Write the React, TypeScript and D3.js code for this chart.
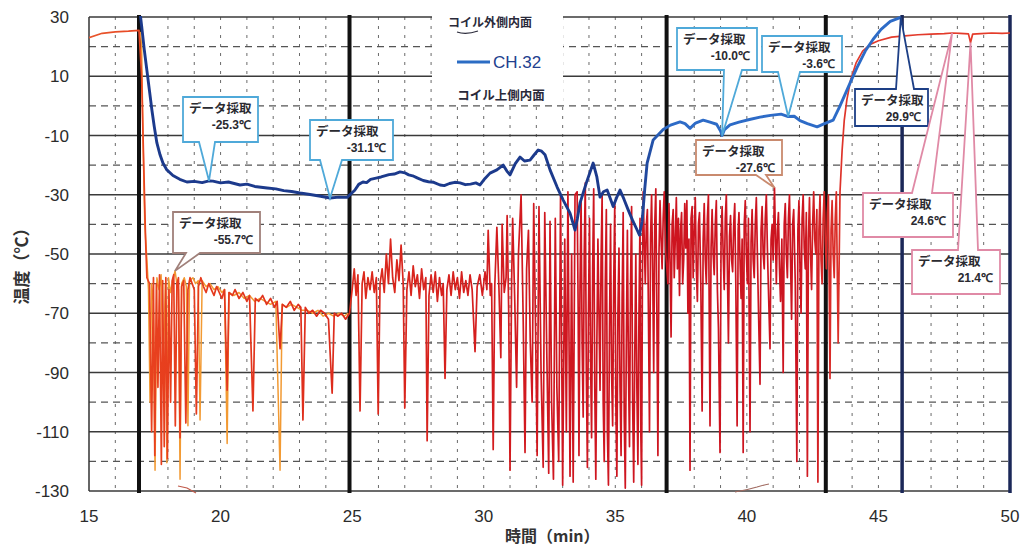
import React from "react";
import * as d3 from "d3";

const WIDTH = 1022;
const HEIGHT = 546;

// Axis domains and tick labels
const timeDomain: [number, number] = [15, 50];
const tempDomain: [number, number] = [-130, 30];
const xTickValues = [15, 20, 25, 30, 35, 40, 45, 50];
const yTickValues = [30, 10, -10, -30, -50, -70, -90, -110, -130];
const yMidValues = [20, 0, -20, -40, -60, -80, -100, -120];
const minuteGrid = [16, 18, 19, 20, 21, 22, 23, 24, 26, 27, 28, 29, 30, 31, 32, 33, 34, 35, 36, 38, 39, 40, 41, 42, 44, 45, 47, 48, 49];
// Process change markers (min)
const eventTimes = [16.9, 24.9, 36.95, 43.0];
const endTimes = [45.9, 50];

// CH.32 (blue) temperature, [min, ℃]
const blueSeries: [number, number][] = [
  [16.92, 33], [17.0, 27], [17.1, 19], [17.2, 12], [17.3, 5], [17.39, -1.4], [17.48, -7], [17.58, -12.5],
  [17.7, -16.5], [17.81, -19.3], [17.95, -21.5], [18.19, -23.5], [18.45, -24.8], [18.72, -25.7], [19.0, -25.5],
  [19.3, -25.9], [19.56, -25.3], [19.71, -25.4], [20.0, -26.0], [20.3, -25.7], [20.74, -26.7], [21.0, -26.4],
  [21.3, -27.2], [21.77, -27.7], [22.1, -28.0], [22.4, -28.6], [22.7, -28.9], [23.02, -29.4], [23.4, -29.9],
  [23.8, -30.5], [24.16, -31.1], [24.5, -30.8], [24.81, -30.9], [25.1, -28.5], [25.25, -26.5], [25.41, -25.7],
  [25.55, -25.9], [25.7, -24.8], [25.95, -24.3], [26.1, -24.0], [26.4, -23.2], [26.6, -23.0], [26.82, -22.3],
  [27.0, -22.6], [27.15, -23.3], [27.3, -23.6], [27.47, -24.3], [27.7, -25.2], [27.9, -25.6], [28.1, -25.8],
  [28.34, -26.7], [28.5, -26.9], [28.7, -26.2], [28.9, -25.8], [29.1, -26.0], [29.3, -26.6], [29.5, -26.4],
  [29.7, -26.0], [29.86, -26.7], [30.05, -24.5], [30.24, -22.7], [30.5, -21.6],
  [30.74, -20.0], [30.88, -22.0], [31.0, -23.3], [31.2, -19.5], [31.38, -17.3], [31.55, -18.6], [31.76, -18.3],
  [31.92, -16.5], [32.07, -14.9], [32.2, -15.3], [32.33, -16.5], [32.52, -21.6], [32.79, -27.4], [33.02, -31.8],
  [33.28, -36.2], [33.47, -41.9], [33.56, -38.0], [33.66, -32.8], [33.9, -26.0], [34.16, -19.3], [34.3, -24.0],
  [34.42, -30.8], [34.55, -29.0], [34.69, -28.4], [34.8, -31.0], [34.92, -34.0], [35.05, -31.0], [35.18, -28.4],
  [35.33, -31.5], [35.49, -35.1], [35.65, -38.5], [35.83, -41.9], [35.92, -43.6], [36.02, -39.0], [36.12, -28.0],
  [36.21, -19.3], [36.44, -11.5], [36.82, -8.0], [37.1, -6.5], [37.46, -5.4], [37.65, -6.0], [37.84, -7.6],
  [38.05, -5.8], [38.34, -4.8], [38.6, -5.5], [38.85, -6.2], [39.0, -8.5], [39.06, -10.0], [39.15, -8.0],
  [39.36, -6.4], [39.7, -5.5], [40.1, -4.6], [40.5, -3.8], [40.9, -3.2], [41.3, -2.8], [41.57, -3.6],
  [41.8, -3.5], [42.02, -5.0], [42.3, -6.0], [42.67, -7.1], [42.95, -6.0], [43.28, -4.8], [43.54, 0],
  [43.92, 7.7], [44.19, 13.0], [44.5, 18.5], [44.8, 22.5], [45.1, 25.8], [45.45, 28.5], [45.85, 29.9],
];

// Companion channel (red) temperature, [min, ℃]
const redSeries: [number, number][] = [
  [15.0, 23], [15.5, 24.5], [16.0, 25], [16.5, 25.2], [16.9, 25.5], [17.0, 10], [17.08, -20], [17.15, -45],
  [17.2, -58], [17.3, -60], [17.38, -110], [17.45, -58], [17.5, -118], [17.56, -60], [17.62, -95], [17.68, -57],
  [17.75, -121], [17.8, -59], [17.86, -115], [17.92, -58], [17.98, -119], [18.04, -62], [18.1, -100], [18.16, -59],
  [18.22, -57], [18.28, -108], [18.34, -60], [18.4, -58], [18.46, -112], [18.52, -61], [18.6, -59], [18.68, -107],
  [18.76, -62], [18.84, -58], [18.92, -60], [19.0, -62], [19.08, -104], [19.16, -61], [19.25, -58], [19.35, -61],
  [19.45, -63], [19.55, -60], [19.65, -62], [19.75, -64], [19.85, -61], [19.95, -63], [20.05, -65], [20.15, -62],
  [20.25, -96], [20.32, -63], [20.45, -64], [20.55, -62], [20.7, -65], [20.85, -63], [21.0, -66], [21.1, -64],
  [21.23, -103], [21.32, -65], [21.45, -66], [21.6, -64], [21.75, -67], [21.9, -65], [22.05, -68], [22.15, -66],
  [22.26, -82], [22.35, -67], [22.5, -68], [22.65, -66], [22.8, -69], [22.95, -67], [23.05, -68], [23.13, -106],
  [23.22, -68], [23.35, -70], [23.5, -69], [23.65, -71], [23.8, -69], [23.95, -70], [24.1, -72], [24.24, -97],
  [24.32, -70], [24.45, -71], [24.6, -70], [24.75, -72], [24.9, -70],
  [25.0, -62], [25.08, -55], [25.15, -64], [25.22, -57], [25.3, -103], [25.38, -60], [25.45, -56], [25.52, -65],
  [25.6, -58], [25.68, -62], [25.76, -56], [25.84, -63], [25.92, -58], [25.99, -104], [26.06, -60], [26.14, -55],
  [26.22, -63], [26.3, -50], [26.38, -60], [26.46, -45], [26.54, -58], [26.62, -63], [26.7, -52], [26.78, -59],
  [26.86, -47], [26.94, -60], [27.0, -102], [27.08, -62], [27.16, -56], [27.24, -64], [27.32, -54], [27.4, -61],
  [27.48, -57], [27.56, -65], [27.64, -55], [27.72, -62], [27.8, -58], [27.85, -113], [27.92, -64], [28.0, -57],
  [28.08, -63], [28.16, -56], [28.24, -66], [28.32, -58], [28.4, -64], [28.46, -60], [28.53, -92], [28.6, -62],
  [28.68, -57], [28.76, -64], [28.84, -56], [28.92, -62], [29.0, -58], [29.08, -65], [29.16, -56], [29.24, -63],
  [29.32, -59], [29.4, -64], [29.48, -57], [29.56, -62], [29.67, -83], [29.75, -61], [29.85, -57], [29.95, -64],
  [30.05, -56], [30.12, -62], [30.17, -42], [30.25, -64], [30.3, -60], [30.36, -116], [30.42, -61], [30.5, -41],
  [30.58, -62], [30.65, -85], [30.7, -40], [30.78, -63], [30.85, -58], [30.89, -37], [30.95, -70], [31.0, -123],
  [31.06, -60], [31.1, -38], [31.18, -66], [31.25, -95], [31.32, -50], [31.42, -30], [31.5, -72], [31.57, -117],
  [31.63, -55], [31.7, -42], [31.77, -80], [31.84, -100], [31.9, -33], [31.97, -75], [32.03, -118], [32.1, -34],
  [32.18, -90], [32.26, -122], [32.32, -36], [32.4, -85], [32.47, -124], [32.52, -39], [32.58, -100], [32.65, -126],
  [32.72, -38], [32.78, -95], [32.85, -120], [32.92, -30], [33.0, -128], [33.08, -45], [33.14, -110], [33.2, -29],
  [33.28, -125], [33.34, -50], [33.4, -127], [33.47, -30], [33.55, -29],
  [33.59, -70], [33.62, -118], [33.66, -60], [33.7, -32], [33.74, -80], [33.78, -105], [33.82, -50], [33.86, -26],
  [33.9, -90], [33.94, -122], [33.98, -70], [34.02, -38], [34.06, -85], [34.1, -112], [34.14, -55], [34.18, -28],
  [34.22, -95], [34.26, -126], [34.3, -80], [34.34, -45], [34.38, -70], [34.42, -96], [34.46, -52], [34.5, -30],
  [34.54, -100], [34.58, -120], [34.62, -60], [34.66, -35], [34.7, -110], [34.74, -128], [34.78, -75], [34.82, -40],
  [34.86, -90], [34.9, -108], [34.94, -60], [34.98, -33], [35.02, -100], [35.06, -125], [35.1, -70], [35.14, -48],
  [35.18, -95], [35.22, -118], [35.26, -65], [35.3, -36], [35.34, -105], [35.38, -129], [35.42, -80], [35.46, -42],
  [35.5, -88], [35.54, -115], [35.58, -60], [35.62, -34], [35.66, -100], [35.7, -127], [35.74, -85], [35.78, -50],
  [35.82, -95], [35.86, -121], [35.9, -70], [35.94, -38], [35.97, -110], [36.0, -128], [36.03, -60], [36.06, -29],
  [36.1, -45], [36.14, -60], [36.18, -40], [36.22, -35], [36.26, -70], [36.3, -110], [36.34, -45], [36.38, -30],
  [36.42, -55], [36.46, -90], [36.5, -40], [36.54, -28], [36.58, -70], [36.62, -118], [36.66, -50], [36.7, -32],
  [36.74, -45], [36.78, -55], [36.82, -38], [36.86, -29], [36.92, -50],
  [37.0, -60], [37.04, -33], [37.08, -52], [37.12, -78], [37.16, -40], [37.2, -35], [37.24, -58], [37.28, -45],
  [37.32, -31], [37.36, -55], [37.4, -38], [37.44, -64], [37.48, -42], [37.52, -36], [37.56, -60], [37.6, -52],
  [37.64, -33], [37.68, -48], [37.72, -32], [37.76, -70], [37.8, -45], [37.84, -123], [37.88, -38], [37.92, -34],
  [37.96, -58], [38.0, -42], [38.04, -31], [38.08, -55], [38.12, -66], [38.16, -40], [38.2, -36], [38.25, -60],
  [38.3, -103], [38.34, -45], [38.38, -33], [38.42, -52], [38.46, -60], [38.5, -38], [38.54, -30], [38.6, -108],
  [38.64, -48], [38.68, -35], [38.72, -50], [38.76, -57], [38.8, -40], [38.84, -32], [38.88, -62], [38.92, -75],
  [38.98, -117], [39.02, -45], [39.06, -34], [39.1, -50], [39.14, -62], [39.18, -38], [39.22, -30], [39.26, -55],
  [39.3, -80], [39.34, -44], [39.38, -37], [39.42, -52], [39.46, -56], [39.5, -40], [39.54, -33], [39.58, -60],
  [39.63, -108], [39.67, -42], [39.7, -36], [39.74, -52], [39.78, -65], [39.82, -45], [39.86, -117], [39.9, -40],
  [39.94, -32], [39.98, -50], [40.02, -60], [40.06, -38], [40.12, -110], [40.16, -46], [40.2, -35], [40.24, -52],
  [40.28, -58], [40.32, -40], [40.36, -31], [40.4, -50], [40.44, -68], [40.5, -94], [40.54, -42], [40.58, -34],
  [40.62, -50], [40.66, -55], [40.7, -38], [40.74, -30], [40.78, -48], [40.82, -62], [40.88, -82], [40.92, -45],
  [40.96, -40], [41.0, -52], [41.05, -27.6], [41.09, -46], [41.12, -60], [41.16, -42], [41.2, -36], [41.24, -55],
  [41.28, -66], [41.33, -45], [41.38, -90], [41.42, -40], [41.46, -33], [41.5, -50], [41.54, -58], [41.58, -38],
  [41.62, -30], [41.66, -52], [41.7, -72], [41.74, -40], [41.78, -35], [41.84, -60], [41.9, -120], [41.94, -42],
  [41.98, -32], [42.02, -55], [42.06, -70], [42.1, -38], [42.14, -30], [42.18, -48], [42.22, -55], [42.26, -36],
  [42.3, -125], [42.34, -45], [42.38, -31], [42.42, -50], [42.46, -62], [42.5, -40], [42.54, -29], [42.58, -45],
  [42.62, -50], [42.66, -35], [42.7, -127], [42.74, -42], [42.78, -30], [42.82, -52], [42.86, -60], [42.9, -38],
  [42.94, -29], [42.98, -45], [43.02, -55], [43.06, -36], [43.1, -30], [43.16, -92], [43.2, -42], [43.24, -32],
  [43.28, -50], [43.32, -58], [43.36, -38], [43.4, -29], [43.47, -80], [43.54, -29],
  [43.62, -15], [43.7, -5], [43.8, 2], [43.95, 9], [44.15, 14.5], [44.4, 18.5], [44.7, 20.8], [45.0, 22],
  [45.5, 23.2], [46.0, 23.6], [46.5, 24.0], [47.0, 24.2], [47.5, 24.4], [47.8, 24.6], [48.1, 24.5], [48.42, 24.3],
  [48.5, 21.4], [48.58, 24.2], [48.9, 24.4], [49.3, 24.6], [49.7, 24.5], [50.0, 24.6],
];

// Companion channel (orange) temperature, [min, ℃]
const orangeSeries: [number, number][] = [
  [16.95, 25], [17.0, 20], [17.05, -10], [17.12, -40], [17.2, -52], [17.26, -62], [17.32, -100], [17.38, -60],
  [17.44, -66], [17.51, -123], [17.58, -58], [17.66, -62], [17.74, -57], [17.82, -90], [17.9, -60], [17.96, -120.5],
  [18.02, -58], [18.1, -63], [18.18, -59], [18.27, -55.7], [18.34, -60], [18.4, -62], [18.46, -126], [18.52, -60],
  [18.62, -58], [18.7, -61], [18.76, -108], [18.82, -59], [18.95, -58], [19.05, -60], [19.15, -59], [19.22, -106],
  [19.3, -59], [19.45, -61], [19.6, -60], [19.75, -62], [19.9, -61], [20.05, -63], [20.15, -62], [20.25, -114],
  [20.32, -63], [20.5, -64], [20.7, -63], [20.9, -65], [21.1, -64], [21.3, -66], [21.5, -65], [21.7, -66],
  [21.9, -67], [22.1, -66], [22.26, -123], [22.34, -67], [22.5, -68], [22.7, -67], [22.9, -68], [23.1, -69],
  [23.3, -69], [23.5, -70], [23.7, -69], [23.9, -71], [24.1, -70], [24.3, -71], [24.5, -70], [24.7, -71],
  [24.85, -70],
];

// Sampled readings shown in callouts
const sampleSeries = ["blue", "blue", "blue", "blue", "blue", "orange", "red", "red", "red"];
const sampleTimes = [19.56, 24.16, 39.06, 41.57, 45.85, 18.27, 41.05, 47.8, 48.5];
const sampleValues = [-25.3, -31.1, -10.0, -3.6, 29.9, -55.7, -27.6, 24.6, 21.4];
const sampleTitle = "データ採取";

// Callout box placement: box, pointer side, pointer base and border colour
const calloutLayout = [
  { x: 183, y: 97, w: 75, h: 45, side: "bottom", b0: 199, b1: 215, stroke: "#4fa9d9" },
  { x: 310, y: 120, w: 83, h: 40, side: "bottom", b0: 320, b1: 342, stroke: "#4fa9d9" },
  { x: 677, y: 28, w: 80, h: 42, side: "bottom", b0: 724, b1: 742, stroke: "#4fa9d9" },
  { x: 762, y: 36, w: 80, h: 36, side: "bottom", b0: 778, b1: 800, stroke: "#4fa9d9" },
  { x: 855, y: 89, w: 73, h: 37, side: "top", b0: 896, b1: 914, stroke: "#1d3f86" },
  { x: 173, y: 212, w: 87, h: 41, side: "bottom", b0: 186, b1: 200, stroke: "#a0807a" },
  { x: 696, y: 140, w: 86, h: 35, side: "bottom", b0: 756, b1: 766, stroke: "#c98a6e" },
  { x: 863, y: 193, w: 90, h: 44, side: "top", b0: 912, b1: 932, stroke: "#e08aa6" },
  { x: 912, y: 250, w: 88, h: 44, side: "top", b0: 958, b1: 978, stroke: "#e08aa6" },
];

const PLOT = { left: 89, right: 1010, top: 17, bottom: 491 };
const NUM_FONT = "'Liberation Sans', Arial, sans-serif";
const JP_FONT = "'Noto Sans CJK JP', 'Noto Sans', sans-serif";

function bubblePath(
  box: { x: number; y: number; w: number; h: number; side: string; b0: number; b1: number },
  tx: number,
  ty: number
) {
  const x0 = box.x, y0 = box.y, x1 = box.x + box.w, y1 = box.y + box.h;
  if (box.side === "top") {
    return `M${x0},${y0}H${box.b0}L${tx},${ty}L${box.b1},${y0}H${x1}V${y1}H${x0}Z`;
  }
  return `M${x0},${y0}H${x1}V${y1}H${box.b1}L${tx},${ty}L${box.b0},${y1}H${x0}Z`;
}

export default function App() {
  const x = d3.scaleLinear().domain(timeDomain).range([PLOT.left, PLOT.right]);
  const y = d3.scaleLinear().domain(tempDomain).range([PLOT.bottom, PLOT.top]);
  const line = d3
    .line<[number, number]>()
    .x((d) => x(d[0]))
    .y((d) => y(d[1]));

  const redStops = [
    { t: 15, c: "#e8582e" },
    { t: 17.5, c: "#e8401e" },
    { t: 25, c: "#dc2a1c" },
    { t: 33, c: "#cf1620" },
    { t: 42, c: "#cc1420" },
    { t: 44, c: "#e23a2c" },
    { t: 50, c: "#e43c2a" },
  ];
  const blueStops = [
    { t: 15, c: "#1c3a8c" },
    { t: 35.8, c: "#1c3a8c" },
    { t: 37, c: "#2d6bc7" },
    { t: 50, c: "#2d6bc7" },
  ];
  const offset = (t: number) => (t - timeDomain[0]) / (timeDomain[1] - timeDomain[0]);

  return (
    <svg
      width={WIDTH}
      height={HEIGHT}
      style={{ position: "absolute", left: 0, top: 0, background: "#ffffff" }}
    >
      <defs>
        <clipPath id="plotClip">
          <rect x={PLOT.left} y={PLOT.top - 1} width={PLOT.right - PLOT.left} height={PLOT.bottom - PLOT.top + 1} />
        </clipPath>
        <linearGradient id="redGrad" gradientUnits="userSpaceOnUse" x1={x(15)} x2={x(50)} y1={0} y2={0}>
          {redStops.map((s, i) => (
            <stop key={i} offset={offset(s.t)} stopColor={s.c} />
          ))}
        </linearGradient>
        <linearGradient id="blueGrad" gradientUnits="userSpaceOnUse" x1={x(15)} x2={x(50)} y1={0} y2={0}>
          {blueStops.map((s, i) => (
            <stop key={i} offset={offset(s.t)} stopColor={s.c} />
          ))}
        </linearGradient>
      </defs>

      {/* minute grid */}
      {minuteGrid.map((m) => (
        <line
          key={`vm${m}`}
          x1={x(m)}
          x2={x(m)}
          y1={PLOT.top}
          y2={PLOT.bottom}
          stroke="#6a6a6a"
          strokeWidth={1}
          strokeDasharray="3,6"
        />
      ))}
      {/* horizontal grid */}
      {yMidValues.map((v) => (
        <line
          key={`hm${v}`}
          x1={PLOT.left}
          x2={PLOT.right}
          y1={y(v)}
          y2={y(v)}
          stroke="#555"
          strokeWidth={1.1}
          strokeDasharray="7,5"
        />
      ))}
      {yTickValues.map((v) => (
        <line
          key={`hs${v}`}
          x1={PLOT.left}
          x2={PLOT.right}
          y1={y(v)}
          y2={y(v)}
          stroke="#3a3a3a"
          strokeWidth={1.3}
        />
      ))}
      <line x1={PLOT.left} x2={PLOT.left} y1={PLOT.top} y2={PLOT.bottom} stroke="#333" strokeWidth={1.5} />

      {/* legend panel */}
      <rect x={432} y={8} width={131} height={97} fill="#ffffff" />
      <text x={490} y={27} fontFamily={JP_FONT} fontSize={12} fontWeight="bold" fill="#2a2a3a" textAnchor="middle">
        コイル外側内面
      </text>
      <path d="M457,32 q9,3 21,-1" fill="none" stroke="#2a2a3a" strokeWidth={1.2} />
      <line x1={457} x2={490} y1={62} y2={62} stroke="#2b6cc4" strokeWidth={3} />
      <text x={493} y={68} fontFamily={NUM_FONT} fontSize={17} fill="#22408e">
        CH.32
      </text>
      <text x={501} y={100} fontFamily={JP_FONT} fontSize={12.5} fontWeight="bold" fill="#2a2a3a" textAnchor="middle">
        コイル上側内面
      </text>

      {/* process markers */}
      {eventTimes.map((t) => (
        <line key={`ev${t}`} x1={x(t)} x2={x(t)} y1={PLOT.top - 2} y2={PLOT.bottom + 2} stroke="#111" strokeWidth={4} />
      ))}
      {endTimes.map((t) => (
        <line key={`en${t}`} x1={x(t)} x2={x(t)} y1={PLOT.top - 2} y2={PLOT.bottom + 2} stroke="#1b2858" strokeWidth={3.5} />
      ))}

      {/* series */}
      <g clipPath="url(#plotClip)" fill="none" strokeLinejoin="round">
        <path d={line(orangeSeries) || ""} stroke="#f29a33" strokeWidth={1.5} />
        <path d={line(redSeries) || ""} stroke="url(#redGrad)" strokeWidth={1.7} />
        <path d={line(blueSeries) || ""} stroke="url(#blueGrad)" strokeWidth={2.9} />
      </g>

      {/* small pointer remnants at the base */}
      <path d="M178,486 L187,488 L196,493" fill="none" stroke="#c05a4a" strokeWidth={1.2} />
      <path d="M735,492 q12,-2 22,-5 q6,-2 12,-3" fill="none" stroke="#a06a60" strokeWidth={1.2} />

      {/* callouts */}
      {calloutLayout.map((box, i) => {
        const tx = x(sampleTimes[i]);
        const ty = y(sampleValues[i]);
        const label = `${sampleValues[i].toFixed(1)}℃`;
        return (
          <g key={`co${i}`} data-series={sampleSeries[i]}>
            <path d={bubblePath(box, tx, ty)} fill="#ffffff" stroke={box.stroke} strokeWidth={1.8} strokeLinejoin="miter" />
            <text x={box.x + 6} y={box.y + 16} fontFamily={JP_FONT} fontSize={12.5} fontWeight="bold" fill="#2a2a30">
              {sampleTitle}
            </text>
            <text
              x={box.x + box.w - 7}
              y={box.y + 32}
              fontFamily={NUM_FONT}
              fontSize={12}
              fontWeight="bold"
              fill="#2a2a30"
              textAnchor="end"
            >
              {label}
            </text>
          </g>
        );
      })}

      {/* axis labels */}
      {yTickValues.map((v) => (
        <text key={`yt${v}`} x={69} y={y(v) + 6} fontFamily={NUM_FONT} fontSize={17} fill="#2b2b2b" textAnchor="end">
          {v}
        </text>
      ))}
      {xTickValues.map((t) => (
        <text key={`xt${t}`} x={x(t)} y={522} fontFamily={NUM_FONT} fontSize={17} fill="#2b2b2b" textAnchor="middle">
          {t}
        </text>
      ))}
      <text
        transform="translate(28,262) rotate(-90)"
        fontFamily={JP_FONT}
        fontSize={17}
        fontWeight="bold"
        fill="#333"
        textAnchor="middle"
      >
        温度（℃）
      </text>
      <text x={505} y={542} fontFamily={JP_FONT} fontSize={16} fontWeight="bold" fill="#333">
        時間（min）
      </text>
    </svg>
  );
}
